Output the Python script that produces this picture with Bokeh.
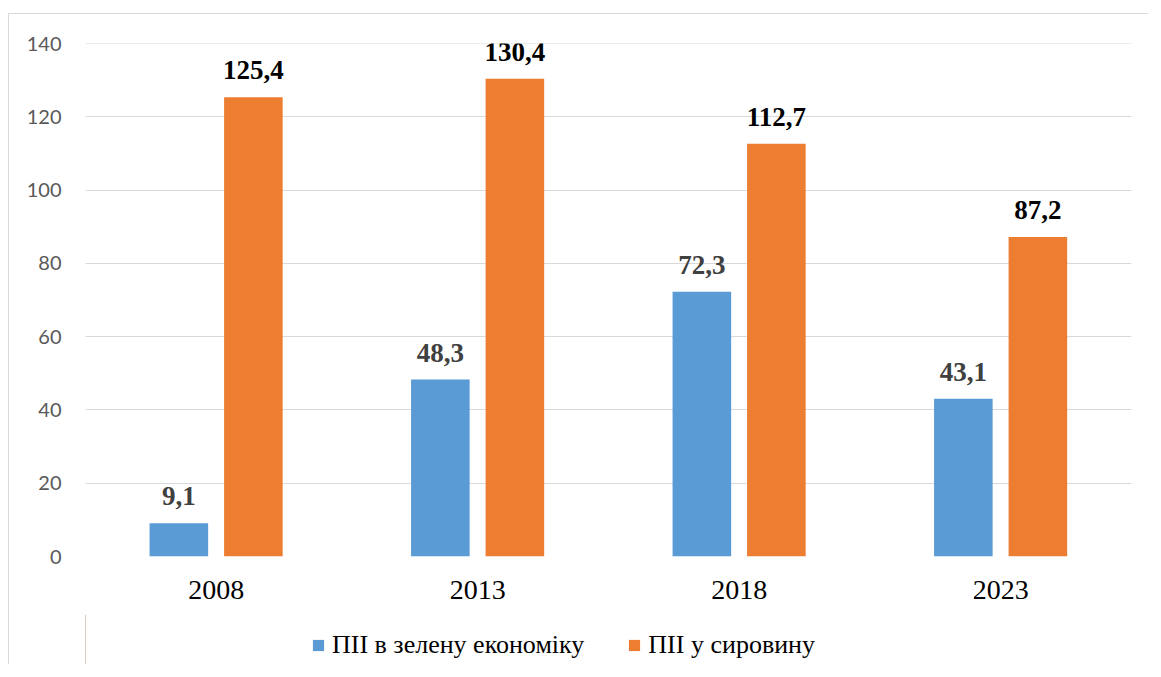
from bokeh.plotting import figure
from bokeh.models import Range1d, FixedTicker, Legend, LegendItem, ColumnDataSource, Spacer
from bokeh.layouts import column, row
from bokeh.transform import dodge
from bokeh.core.properties import value
from bokeh.embed import file_html
from bokeh.resources import INLINE

years = ["2008", "2013", "2018", "2023"]
green = [9.1, 48.3, 72.3, 43.1]
raw = [125.4, 130.4, 112.7, 87.2]
series_names = ["ПІІ в зелену економіку", "ПІІ у сировину"]
y_ticks = [0, 20, 40, 60, 80, 100, 120, 140]

BLUE = "#5B9BD5"
ORANGE = "#ED7D31"

src = ColumnDataSource(dict(
    years=years, green=green, raw=raw,
    green_lbl=[f"{v:.1f}".replace(".", ",") for v in green],
    raw_lbl=[f"{v:.1f}".replace(".", ",") for v in raw],
))

p = figure(x_range=years, y_range=Range1d(0, 140.05),
           width=1140, height=601,
           min_border_left=76, min_border_right=18, min_border_top=29, min_border_bottom=59,
           output_backend="svg", toolbar_location=None)
p.styles = {"border-left": "1px solid #d9d9d9", "border-top": "1px solid #d9d9d9"}

r1 = p.vbar(x=dodge("years", -0.143, range=p.x_range), top="green", width=0.224,
            source=src, fill_color=BLUE, line_color=None)
r2 = p.vbar(x=dodge("years", 0.142, range=p.x_range), top="raw", width=0.224,
            source=src, fill_color=ORANGE, line_color=None)

p.text(x=dodge("years", -0.143, range=p.x_range), y="green", text="green_lbl", source=src,
       text_align="center", text_baseline="alphabetic", y_offset=-27,
       text_font=value("Liberation Serif"), text_font_style="bold",
       text_font_size="27px", text_color="#404040")
p.text(x=dodge("years", 0.142, range=p.x_range), y="raw", text="raw_lbl", source=src,
       text_align="center", text_baseline="alphabetic", y_offset=-27,
       text_font=value("Liberation Serif"), text_font_style="bold",
       text_font_size="27px", text_color="#000000")

p.outline_line_color = None
p.xgrid.visible = False
p.ygrid.grid_line_color = "#d9d9d9"
p.ygrid.grid_line_width = 1.2
p.yaxis.ticker = FixedTicker(ticks=y_ticks)
for ax in (p.xaxis, p.yaxis):
    ax.axis_line_color = None
    ax.major_tick_line_color = None
    ax.minor_tick_line_color = None
    ax.major_tick_out = 0
    ax.major_tick_in = 0

p.yaxis.major_label_text_font = "Lato"
p.yaxis.major_label_text_font_size = "20px"
p.yaxis.major_label_text_color = "#595959"
p.yaxis.major_label_standoff = 24

p.xaxis.major_label_text_font = "Liberation Serif"
p.xaxis.major_label_text_font_size = "28px"
p.xaxis.major_label_text_color = "#000000"
p.xaxis.major_label_standoff = 24

# legend strip: a second figure holding only the legend (frame aligned with the chart)
pl = figure(width=1140, height=50, x_range=Range1d(0, 1), y_range=Range1d(0, 1),
            x_axis_type=None, y_axis_type=None,
            min_border_left=76, min_border_right=18, min_border_top=0, min_border_bottom=0,
            output_backend="svg", toolbar_location=None)
pl.styles = {"border-left": "1px solid #d9d9d9"}
pl.grid.visible = False
pl.outline_line_color = None
d1 = pl.vbar(x=[-10], top=[1], width=0.1, fill_color=BLUE, line_color=None)
d2 = pl.vbar(x=[-10], top=[1], width=0.1, fill_color=ORANGE, line_color=None)

legend = Legend(items=[LegendItem(label=series_names[0], renderers=[d1]),
                       LegendItem(label=series_names[1], renderers=[d2])],
                orientation="horizontal", location=(226, 4))
legend.label_text_font = "Times New Roman"
legend.label_text_font_size = "26px"
legend.label_text_color = "#000000"
legend.glyph_width = 14
legend.glyph_height = 14
legend.label_standoff = 7
legend.spacing = 43
legend.padding = 0
legend.margin = 0
legend.border_line_color = None
legend.background_fill_alpha = 0
pl.add_layout(legend, "center")

inner = column(p, pl, spacing=0)
layout = column(Spacer(height=13), row(Spacer(width=8), inner))
open("out.html", "w").write(file_html(layout, INLINE))
